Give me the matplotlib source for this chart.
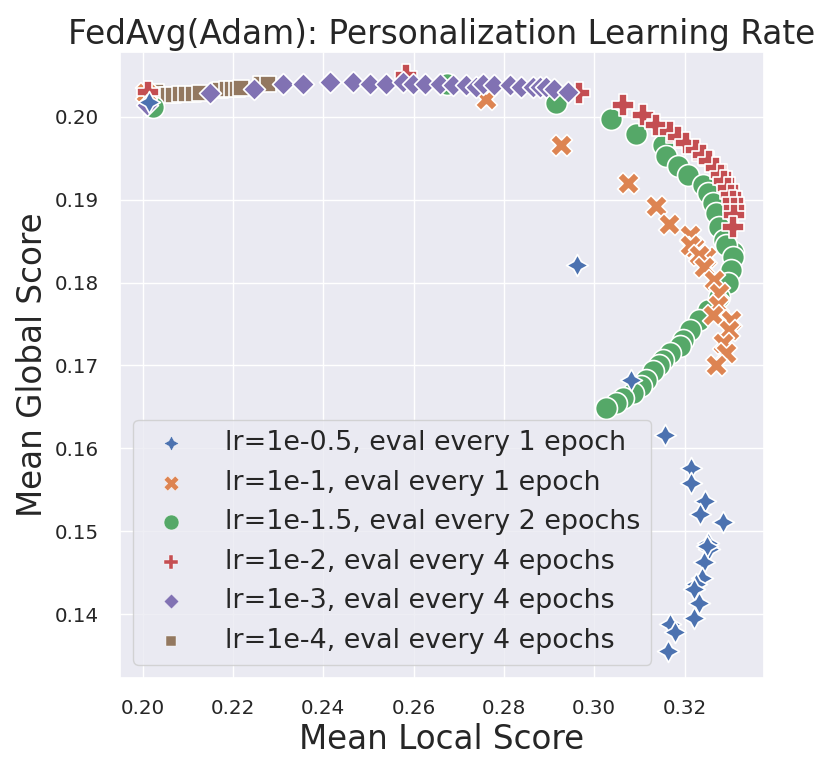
import matplotlib
matplotlib.use("Agg")
import matplotlib.pyplot as plt
import seaborn as sns

sns.set_theme(style="darkgrid")
plt.rcParams['font.family'] = ['DejaVu Sans']

# lr=1e-0.5, eval every 1 epoch
local_a = [0.2015, 0.2962, 0.3082, 0.3157, 0.3215, 0.3215, 0.3246, 0.3235, 0.3285, 0.3251,
           0.3255, 0.3250, 0.3242, 0.3239, 0.3225, 0.3220, 0.3233, 0.3222, 0.3167, 0.3178, 0.3163]
global_a = [0.2018, 0.1821, 0.1683, 0.1616, 0.1576, 0.1558, 0.1536, 0.1521, 0.1511, 0.1486,
            0.1478, 0.1482, 0.1463, 0.1444, 0.1436, 0.1430, 0.1414, 0.1395, 0.1388, 0.1378, 0.1355]

# lr=1e-1, eval every 1 epoch
local_b = [0.2008, 0.2761, 0.2927, 0.3074, 0.3136, 0.3165, 0.3211, 0.3222, 0.3248, 0.3211,
           0.3233, 0.3244, 0.3266, 0.3277, 0.3273, 0.3262, 0.3303, 0.3299, 0.3285, 0.3292, 0.3270]
global_b = [0.2028, 0.2021, 0.1966, 0.1920, 0.1892, 0.1871, 0.1857, 0.1843, 0.1831, 0.1845,
            0.1833, 0.1819, 0.1803, 0.1787, 0.1773, 0.1761, 0.1755, 0.1743, 0.1727, 0.1715, 0.1701]

# lr=1e-1.5, eval every 2 epochs
local_c = [0.2022, 0.2673, 0.2916, 0.3038, 0.3093, 0.3152, 0.3159, 0.3185, 0.3207, 0.3240,
           0.3251, 0.3262, 0.3270, 0.3277, 0.3288, 0.3307, 0.3292, 0.3307, 0.3303, 0.3296,
           0.3277, 0.3251, 0.3233, 0.3211, 0.3196, 0.3189, 0.3167, 0.3152, 0.3144, 0.3130,
           0.3115, 0.3104, 0.3085, 0.3063, 0.3049, 0.3027]
global_c = [0.2012, 0.2040, 0.2016, 0.1997, 0.1979, 0.1966, 0.1952, 0.1940, 0.1930, 0.1918,
            0.1908, 0.1896, 0.1884, 0.1867, 0.1851, 0.1837, 0.1845, 0.1831, 0.1815, 0.1799,
            0.1783, 0.1767, 0.1755, 0.1743, 0.1731, 0.1723, 0.1715, 0.1707, 0.1701, 0.1693,
            0.1683, 0.1675, 0.1667, 0.1661, 0.1655, 0.1649]

# lr=1e-2, eval every 4 epochs
local_d = [0.2012, 0.2584, 0.2967, 0.3063, 0.3109, 0.3137, 0.3167, 0.3185, 0.3204, 0.3226,
           0.3240, 0.3255, 0.3270, 0.3281, 0.3288, 0.3296, 0.3303, 0.3307, 0.3310, 0.3310, 0.3307]
global_d = [0.2030, 0.2050, 0.2028, 0.2014, 0.2002, 0.1990, 0.1982, 0.1976, 0.1968, 0.1960,
            0.1954, 0.1946, 0.1938, 0.1930, 0.1922, 0.1914, 0.1906, 0.1898, 0.1890, 0.1882, 0.1867]

# lr=1e-3, eval every 4 epochs
local_e = [0.2010, 0.2149, 0.2246, 0.2311, 0.2355, 0.2414, 0.2466, 0.2503, 0.2540, 0.2577,
           0.2599, 0.2625, 0.2658, 0.2687, 0.2717, 0.2739, 0.2754, 0.2779, 0.2813, 0.2839,
           0.2864, 0.2879, 0.2894, 0.2912, 0.2942]
global_e = [0.2014, 0.2028, 0.2034, 0.2040, 0.2040, 0.2042, 0.2042, 0.2040, 0.2040, 0.2042,
            0.2040, 0.2040, 0.2040, 0.2038, 0.2038, 0.2036, 0.2040, 0.2038, 0.2038, 0.2036,
            0.2036, 0.2036, 0.2036, 0.2034, 0.2030]

# lr=1e-4, eval every 4 epochs
local_f = [0.2030, 0.2042, 0.2057, 0.2068, 0.2083, 0.2097, 0.2112, 0.2127, 0.2171, 0.2186,
           0.2197, 0.2208, 0.2219, 0.2263, 0.2278]
global_f = [0.2030, 0.2026, 0.2026, 0.2026, 0.2027, 0.2027, 0.2027, 0.2028, 0.2032, 0.2033,
            0.2034, 0.2034, 0.2035, 0.2039, 0.2039]

labels = ["lr=1e-0.5, eval every 1 epoch", "lr=1e-1, eval every 1 epoch",
          "lr=1e-1.5, eval every 2 epochs", "lr=1e-2, eval every 4 epochs",
          "lr=1e-3, eval every 4 epochs", "lr=1e-4, eval every 4 epochs"]

pal = sns.color_palette("deep")
series = [
    (local_a, global_a, (4, 1, 0), pal[0]),
    (local_b, global_b, "X", pal[1]),
    (local_c, global_c, "o", pal[2]),
    (local_d, global_d, "P", pal[3]),
    (local_e, global_e, (4, 0, 0), pal[4]),
    (local_f, global_f, (4, 0, 45), pal[5]),
]

fig = plt.figure(figsize=(8.31, 7.73), dpi=100)
ax = fig.add_axes([0.1444, 0.1229, 0.7750, 0.8098])

handles = {}
# drawing order so that overlaps look like the original
for i in [5, 2, 1, 3, 4, 0]:
    xs, ys, m, c = series[i]
    handles[i] = ax.scatter(xs, ys, s=250, marker=m, color=c, edgecolor="white",
                            linewidth=1.2, label=labels[i])

ax.set_xlim(0.1950, 0.3376)
ax.set_ylim(0.1323, 0.2078)
ax.set_xticks([0.20, 0.22, 0.24, 0.26, 0.28, 0.30, 0.32])
ax.set_yticks([0.14, 0.15, 0.16, 0.17, 0.18, 0.19, 0.20])
ax.tick_params(labelsize=14.3, pad=9)

ax.set_title("FedAvg(Adam): Personalization Learning Rate", fontsize=23.6)
ax.set_xlabel("Mean Local Score", fontsize=23.5)
ax.set_ylabel("Mean Global Score", fontsize=23.5)

leg = ax.legend([handles[i] for i in range(6)], labels, loc="lower left", fontsize=19.4,
                markerscale=0.68, labelspacing=0.5, handletextpad=1.0)
for h in leg.legend_handles:
    h.set_linewidth(0.3)

fig.savefig("out.png", dpi=100)
